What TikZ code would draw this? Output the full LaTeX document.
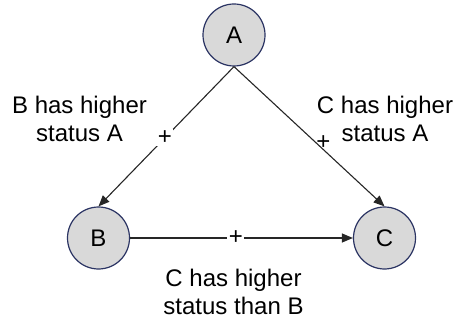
\documentclass[tikz,border=0pt]{standalone}
\usepackage{fontspec}
\setmainfont{Liberation Sans}
\usetikzlibrary{arrows.meta}
\definecolor{nodefill}{HTML}{D9D9D9}
\definecolor{nodeline}{HTML}{2B3463}

\begin{document}
\begin{tikzpicture}[x=1pt, y=-1pt, every node/.style={font=\fontsize{24}{28}\selectfont},
  person/.style={circle, draw=nodeline, fill=nodefill, line width=1.2pt, minimum size=62pt, inner sep=0pt},
  tie/.style={-{Triangle[length=11pt,width=9pt]}, line width=1.1pt, draw=black!85},
  sign/.style={fill=white, inner sep=1.5pt},
  note/.style={align=center, inner sep=0pt}]
\useasboundingbox (0,0) rectangle (454,320);
\node[person] (A) at (234,35) {A};
\node[person] (B) at (98.5,238) {B};
\node[person] (C) at (384.5,238) {C};
\draw[tie] (A.south) -- node[sign, pos=0.51] (pAB) {+} (B.north);
\draw[tie] (A.south) -- node[sign, fill=none, pos=0.54, xshift=8pt] (pAC) {+} (C.north);
\draw[tie] (B.east) -- node[sign, pos=0.475] (pBC) {+} (C.west);
\node[note] (nAB) at (79.5,119) {B has higher\\status A};
\node[note] (nAC) at (385,119) {C has higher\\status A};
\node[note] (nBC) at (233.5,292) {C has higher\\status than B};
\end{tikzpicture}
\end{document}
